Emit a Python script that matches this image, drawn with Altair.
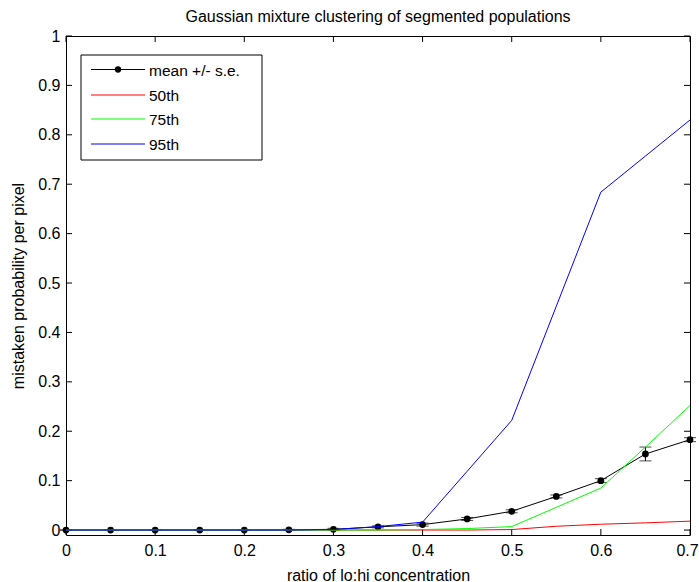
import altair as alt
import pandas as pd

# ---- data ----
x_vals = [0, 0.05, 0.1, 0.15, 0.2, 0.25, 0.3, 0.35, 0.4, 0.45, 0.5, 0.55, 0.6, 0.65, 0.7]
mean_vals = [0, 0, 0, 0, 0, 0.0005, 0.0015, 0.0065, 0.011, 0.0225, 0.038, 0.068, 0.100, 0.154, 0.183]
se_vals = [0, 0, 0, 0, 0, 0.001, 0.002, 0.002, 0.003, 0.003, 0.003, 0.003, 0.004, 0.014, 0.004]
p50_vals = [0, 0, 0, 0, 0, 0, 0, 0, 0, 0, 0.001, 0.0077, 0.0118, 0.0146, 0.018]
p75_vals = [0, 0, 0, 0, 0, 0, 0, 0, 0.001, 0.003, 0.007, 0.046, 0.085, 0.168, 0.252]
p95_vals = [0, 0, 0, 0, 0, 0, 0.001, 0.007, 0.016, 0.119, 0.222, 0.453, 0.684, 0.757, 0.830]

x_ticks = [0, 0.1, 0.2, 0.3, 0.4, 0.5, 0.6, 0.7]
y_ticks = [0, 0.1, 0.2, 0.3, 0.4, 0.5, 0.6, 0.7, 0.8, 0.9, 1]

title_text = "Gaussian mixture clustering of segmented populations"
legend_labels = ["mean +/- s.e.", "50th", "75th", "95th"]
legend_colors = ["#000000", "#ff0000", "#00ff00", "#0000ff"]

FONT = "Liberation Sans"
W, H = 624, 499

df = pd.DataFrame({
    "x": x_vals,
    "mean": mean_vals,
    "lo": [m - s for m, s in zip(mean_vals, se_vals)],
    "hi": [m + s for m, s in zip(mean_vals, se_vals)],
    "p50": p50_vals,
    "p75": p75_vals,
    "p95": p95_vals,
})

xs = alt.Scale(domain=[0, 0.7], nice=False, zero=False)
ys = alt.Scale(domain=[-0.01, 1], nice=False, zero=False)

x_axis = alt.Axis(values=x_ticks, format="~g", title="ratio of lo:hi concentration",
                  ticks=False, tickSize=0, grid=False, domain=False,
                  labelPadding=7, titlePadding=9, labelFlush=False,
                  labelOffset={"condition": {"test": "datum.value >= 0.69", "value": -3}, "value": 0})
y_axis = alt.Axis(values=y_ticks, format="~g", title="mistaken probability per pixel",
                  ticks=False, tickSize=0, grid=False, domain=False,
                  labelPadding=6, titlePadding=11, labelFlush=False)


def X(field):
    return alt.X(f"{field}:Q", scale=xs, axis=x_axis)


def Y(field):
    return alt.Y(f"{field}:Q", scale=ys, axis=y_axis)


base = alt.Chart(df)

# inward ticks on all four sides
xt = alt.Chart(pd.DataFrame({"xt": x_ticks}))
yt = alt.Chart(pd.DataFrame({"yt": y_ticks}))
tick_bottom = xt.mark_rule(color="black", strokeWidth=1).encode(
    x=X("xt"), y=alt.value(H), y2=alt.value(H - 6))
tick_top = xt.mark_rule(color="black", strokeWidth=1).encode(
    x=X("xt"), y=alt.value(0), y2=alt.value(6))
tick_left = yt.mark_rule(color="black", strokeWidth=1).encode(
    y=Y("yt"), x=alt.value(0), x2=alt.value(6))
tick_right = yt.mark_rule(color="black", strokeWidth=1).encode(
    y=Y("yt"), x=alt.value(W - 6), x2=alt.value(W))

mean_line = base.mark_line(color="black", strokeWidth=1).encode(x=X("x"), y=Y("mean"))
err = base.mark_rule(color="black", strokeWidth=1).encode(x=X("x"), y=Y("lo"), y2="hi")
cap_lo = base.mark_tick(color="black", orient="horizontal", size=12, thickness=1).encode(x=X("x"), y=Y("lo"))
cap_hi = base.mark_tick(color="black", orient="horizontal", size=12, thickness=1).encode(x=X("x"), y=Y("hi"))
mean_pts = base.mark_point(filled=True, color="black", size=45, shape="circle", opacity=1).encode(
    x=X("x"), y=Y("mean"))

l50 = base.mark_line(color=legend_colors[1], strokeWidth=1).encode(x=X("x"), y=Y("p50"))
l75 = base.mark_line(color=legend_colors[2], strokeWidth=1).encode(x=X("x"), y=Y("p75"))
l95 = base.mark_line(color=legend_colors[3], strokeWidth=1).encode(x=X("x"), y=Y("p95"))

one = alt.Chart(pd.DataFrame({"a": [0]}))

# title as a text mark above the plot area
title_mark = one.mark_text(align="center", baseline="alphabetic", font=FONT, fontSize=16,
                           color="black").encode(
    x=alt.value(W / 2), y=alt.value(-14), text=alt.value(title_text))

# legend box (decoration)
leg_box = one.mark_rect(fill="white", stroke="black", strokeWidth=1).encode(
    x=alt.value(15), x2=alt.value(196), y=alt.value(19), y2=alt.value(124))
row_y = [33.5, 59, 83, 108]
leg_layers = [leg_box]
for lab, col, ry in zip(legend_labels, legend_colors, row_y):
    leg_layers.append(one.mark_rule(color=col, strokeWidth=1).encode(
        x=alt.value(25), x2=alt.value(79), y=alt.value(ry)))
    leg_layers.append(one.mark_text(align="left", baseline="middle", font=FONT, fontSize=15.5,
                                    color="black").encode(
        x=alt.value(83), y=alt.value(ry + 1), text=alt.value(lab)))
leg_layers.append(one.mark_point(filled=True, color="black", size=40, opacity=1).encode(
    x=alt.value(52), y=alt.value(row_y[0])))

chart = alt.layer(
    tick_bottom, tick_top, tick_left, tick_right,
    mean_line, err, cap_lo, cap_hi, mean_pts,
    l50, l75, l95,
    title_mark,
    *leg_layers,
).properties(
    width=W, height=H,
    padding={"left": 66, "top": 36, "right": 9, "bottom": 47},
    autosize=alt.AutoSizeParams(type="none"),
).configure_view(
    stroke="black", strokeWidth=1
).configure_axis(
    labelFont=FONT, titleFont=FONT, labelFontSize=16, titleFontSize=16,
    labelColor="black", titleColor="black", titleFontWeight="normal"
)

chart.save("out.html", embed_options={"renderer": "svg", "actions": False})
